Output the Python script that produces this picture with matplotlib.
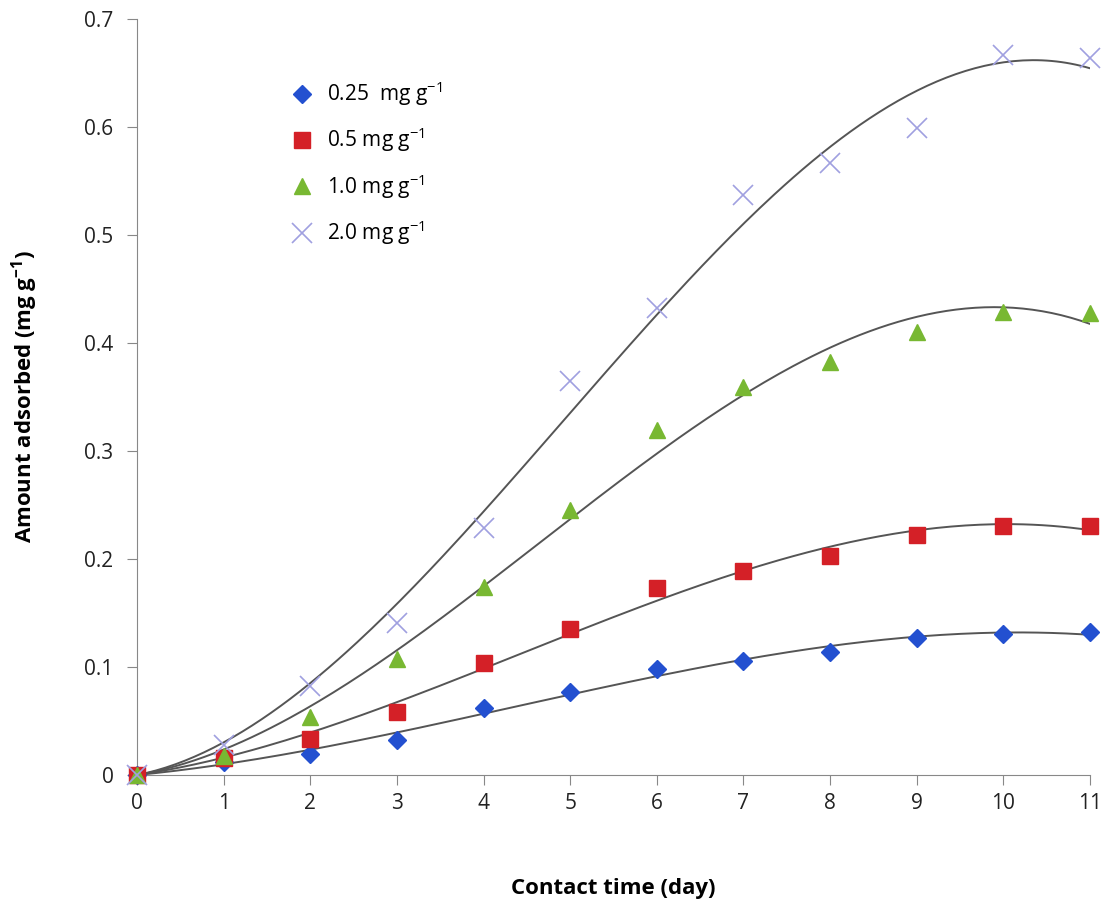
import numpy as np
import matplotlib
matplotlib.use("Agg")
import matplotlib.pyplot as plt

plt.rcParams['font.family'] = ['Open Sans', 'DejaVu Sans']
plt.rcParams['mathtext.default'] = 'regular'

# contact time (day)
days = np.arange(0, 12)

# amount adsorbed (mg g-1)
c025 = [0, 0.012, 0.019, 0.032, 0.062, 0.077, 0.098, 0.106, 0.114, 0.127, 0.131, 0.132]
c05 = [0, 0.016, 0.033, 0.058, 0.104, 0.135, 0.173, 0.189, 0.203, 0.222, 0.231, 0.231]
c10 = [0, 0.018, 0.054, 0.107, 0.174, 0.245, 0.319, 0.359, 0.382, 0.410, 0.429, 0.428]
c20 = [0, 0.028, 0.082, 0.141, 0.229, 0.365, 0.432, 0.537, 0.567, 0.599, 0.667, 0.664]

labels = ["0.25  mg g$^{-1}$", "0.5 mg g$^{-1}$", "1.0 mg g$^{-1}$", "2.0 mg g$^{-1}$"]

fig = plt.figure(figsize=(11.06, 9), dpi=100)
ax = fig.add_axes([137/1106, 125/900, (1090-137)/1106, (775-19)/900])

series = [c025, c05, c10, c20]
styles = [
    dict(marker="D", color="#2350d0", ms=9),
    dict(marker="s", color="#d42027", ms=12),
    dict(marker="^", color="#78b832", ms=12),
    dict(marker="x", color="#a0a0e0", ms=14, mew=1.2),
]

xx = np.linspace(0, 11, 200)
for ys, st, lab in zip(series, styles, labels):
    # trend line: 3rd order polynomial through the origin
    A = np.column_stack([days, days**2, days**3])
    coef = np.linalg.lstsq(A, np.array(ys), rcond=None)[0]
    fit = coef[0]*xx + coef[1]*xx**2 + coef[2]*xx**3
    ax.plot(xx, fit, color="#555555", lw=1.4, zorder=2)
    ax.plot(days, ys, linestyle="none", label=lab, zorder=3, clip_on=False, **st)

ax.set_xlim(0, 11)
ax.set_ylim(0, 0.7)
ax.set_xticks(days)
ax.set_yticks(np.arange(0, 0.71, 0.1))
ax.set_yticklabels(["0", "0.1", "0.2", "0.3", "0.4", "0.5", "0.6", "0.7"])

for s in ["top", "right"]:
    ax.spines[s].set_visible(False)
for s in ["left", "bottom"]:
    ax.spines[s].set_color("#888888")
ax.tick_params(axis="both", colors="#888888", labelcolor="#222222", labelsize=15, length=7, direction="out")
ax.tick_params(axis="x", pad=6)
ax.tick_params(axis="y", pad=10)

ax.set_xlabel("Contact time (day)", fontsize=16, fontweight="bold", labelpad=46)
ax.set_ylabel("Amount adsorbed (mg g$^{-1}$)", fontsize=16, fontweight="bold", labelpad=32)

ax.legend(loc="upper left", bbox_to_anchor=(0.14, 0.945), frameon=False, fontsize=15,
          handletextpad=0.6, labelspacing=0.85, handlelength=1.2)

fig.savefig("out.png", dpi=100)
